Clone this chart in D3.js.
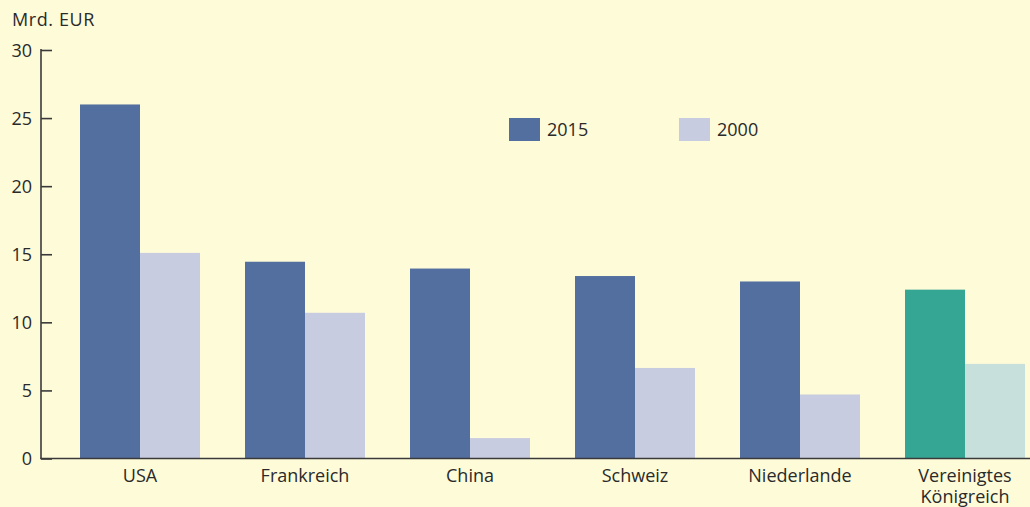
<!DOCTYPE html>
<html><head><meta charset="utf-8">
<script src="https://cdn.jsdelivr.net/npm/d3@7"></script>
<style>
html,body{margin:0;padding:0;background:#fefbd9;}
svg{display:block;font-family:"Open Sans",sans-serif;}
</style></head>
<body>
<svg id="c" width="1030" height="507"></svg>
<script>
const categories = ["USA","Frankreich","China","Schweiz","Niederlande","Vereinigtes\nKönigreich"];
const values2015 = [26.0, 14.45, 13.95, 13.4, 13.0, 12.4];
const values2000 = [15.1, 10.7, 1.5, 6.65, 4.7, 6.95];
const seriesNames = ["2015","2000"];
const yTicks = [0,5,10,15,20,25,30];
const highlightCategory = "Vereinigtes\nKönigreich";

const colors = {dark:"#536f9f", light:"#c8cce0", hiDark:"#35a594", hiLight:"#c8e0dc", text:"#2a2a2a", axis:"#3a3a3a"};

const svg = d3.select("#c");
const x0 = 41, yBase = 458.5, yTop = 50;
const x = d3.scaleBand().domain(categories).range([57.5, 1047.5]).paddingInner(45/165).paddingOuter(45/330);
const xs = d3.scaleBand().domain(seriesNames).range([0, x.bandwidth()]);
const y = d3.scaleLinear().domain([0,30]).range([yBase, yTop]);

svg.append("rect").attr("width",1030).attr("height",507).attr("fill","#fefbd9");

const data = [];
categories.forEach((c,i)=>{
  data.push({c, s:"2015", v:values2015[i]});
  data.push({c, s:"2000", v:values2000[i]});
});
svg.append("g").selectAll("rect").data(data).join("rect")
  .attr("x", d=>x(d.c)+xs(d.s))
  .attr("width", xs.bandwidth())
  .attr("y", d=>y(d.v))
  .attr("height", d=>y(0)-y(d.v))
  .attr("fill", d=>{
    const hi = d.c===highlightCategory;
    if(d.s==="2015") return hi?colors.hiDark:colors.dark;
    return hi?colors.hiLight:colors.light;
  });

// y axis
const yAxis = d3.axisLeft(y).tickValues(yTicks).tickSize(-11).tickPadding(9).tickFormat(d3.format("d"));
const gy = svg.append("g").attr("transform",`translate(${x0},0)`).call(yAxis);
gy.select(".domain").remove();
gy.selectAll(".tick line").attr("stroke",colors.axis).attr("stroke-width",1.6);
gy.selectAll(".tick text").attr("fill",colors.text).attr("font-size",18).attr("font-family","Open Sans").attr("dy","0.35em");
gy.append("line").attr("x1",0).attr("x2",0).attr("y1",y(30)-1).attr("y2",yBase).attr("stroke",colors.axis).attr("stroke-width",1.6);

// x axis
const xAxis = d3.axisBottom(x).tickSize(0).tickPadding(0);
const gx = svg.append("g").attr("transform",`translate(0,${yBase})`).call(xAxis);
gx.select(".domain").remove();
gx.append("line").attr("x1",x0-0.8).attr("x2",1030).attr("y1",0).attr("y2",0).attr("stroke",colors.axis).attr("stroke-width",1.6);
gx.selectAll(".tick text").each(function(d){
  const t = d3.select(this);
  t.text(null).attr("fill",colors.text).attr("font-size",18).attr("font-family","Open Sans").attr("y",0).attr("dy",null);
  d.split("\n").forEach((line,i)=>{
    t.append("tspan").attr("x",0).attr("y",23+i*21).text(line);
  });
});

// title
svg.append("text").attr("x",12).attr("y",26).attr("fill",colors.text).attr("font-size",18).attr("letter-spacing",0.6).text("Mrd. EUR");

// legend
const legendX = [509, 679];
const lg = svg.append("g").selectAll("g").data(seriesNames).join("g")
  .attr("transform",(d,i)=>`translate(${legendX[i]},118)`);
lg.append("rect").attr("width",31).attr("height",23).attr("fill",(d,i)=>i===0?colors.dark:colors.light);
lg.append("text").attr("x",38).attr("y",18).attr("fill",colors.text).attr("font-size",18).text(d=>d);
</script>
</body></html>
